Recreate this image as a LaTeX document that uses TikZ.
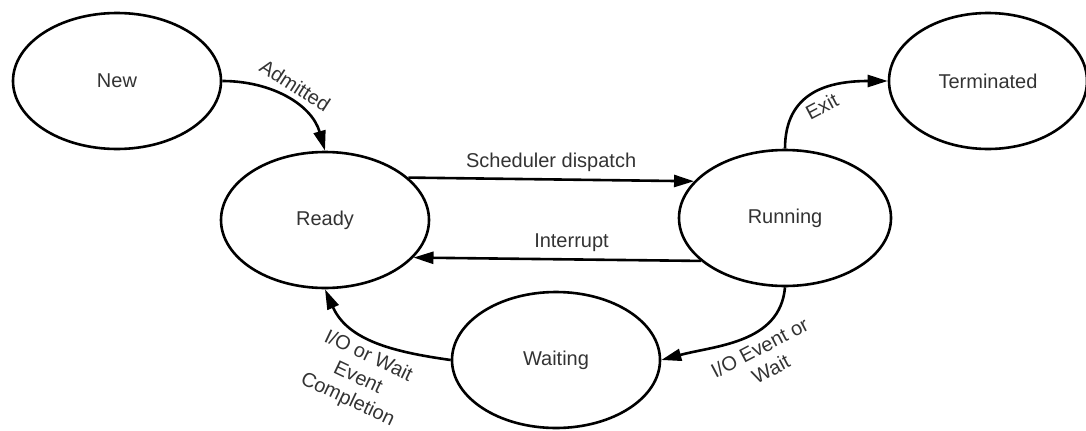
\documentclass[tikz,border=0pt]{standalone}
\usepackage{fontspec}
\setmainfont{Liberation Sans}
\usetikzlibrary{shapes.geometric,arrows.meta}

\begin{document}
\begin{tikzpicture}[x=0.5pt,y=0.5pt,->,>={Triangle[length=10pt,width=6pt]},
  line width=1.3pt,
  state node/.style={ellipse,draw,minimum width=104pt,minimum height=68pt,
    inner sep=0pt,text=black!80}]
  \useasboundingbox (0,0) rectangle (1086,430);

  \node[state node] (new) at (117,349) {New};
  \node[state node,minimum width=99pt] (term) at (988,349) {Terminated};
  \node[state node] (ready) at (325,210) {Ready};
  \node[state node,minimum width=106pt] (run) at (785,212) {Running};
  \node[state node] (wait) at (556,70) {Waiting};

  \path[every node/.style={text=black!80,align=center}]
    (new.east) edge[out=0,in=106] node[sloped,above] {Admitted} (ready.north)
    (ready.27) edge node[above] {Scheduler dispatch} (run.158)
    (run.-153) edge node[above,pos=.45] {Interrupt} (ready.-23)
    (run.north) edge[out=90,in=180,looseness=1.2] node[sloped,below] {Exit} (term.west)
    (run.south) edge[out=-95,in=15] node[sloped,below,pos=.42] {I/O Event or\\Wait} (wait.east)
    (wait.west) edge[out=172,in=-66] node[sloped,below] {I/O or Wait\\Event\\Completion} (ready.south);
\end{tikzpicture}
\end{document}
